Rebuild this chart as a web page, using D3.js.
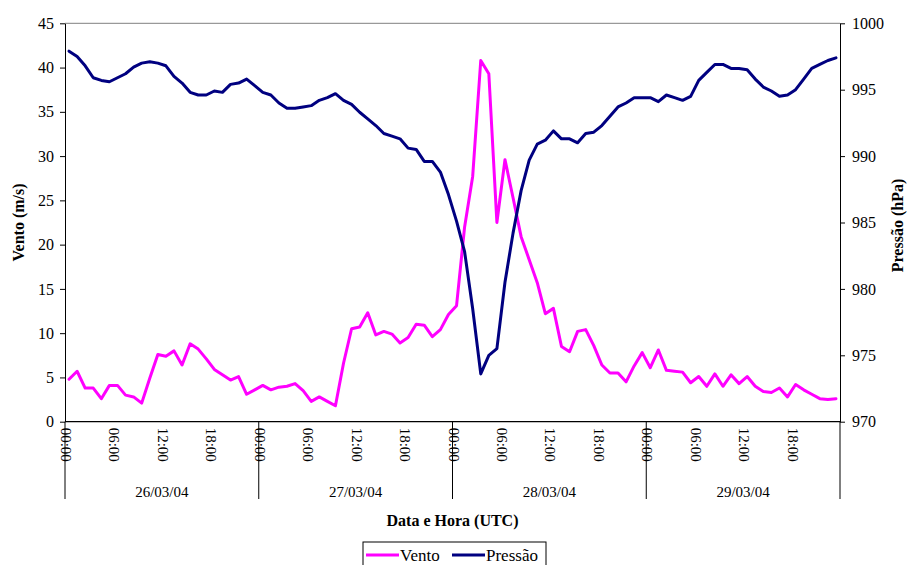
<!DOCTYPE html>
<html>
<head>
<meta charset="utf-8">
<script src="https://cdn.jsdelivr.net/npm/d3@7"></script>
<style>
  html, body { margin: 0; padding: 0; background: #fff; }
  svg { display: block; }
  svg text { font-family: "Liberation Serif", "Times New Roman", Times, "DejaVu Serif", serif; fill: #000; }
</style>
</head>
<body>
<svg id="chart" width="907" height="565"></svg>
<script>
// Observation days and hourly steps
const days = ["26/03/04", "27/03/04", "28/03/04", "29/03/04"];
const hourLabels = ["00:00", "06:00", "12:00", "18:00"];

// Wind speed (m/s), hourly
const vento = [
  4.8, 5.7, 3.8, 3.8, 2.6, 4.1, 4.1, 3.0, 2.8, 2.1, 4.9, 7.6,
  7.4, 8.0, 6.4, 8.8, 8.2, 7.1, 5.9, 5.3, 4.7, 5.1, 3.1, 3.6,
  4.1, 3.6, 3.9, 4.0, 4.3, 3.5, 2.3, 2.8, 2.3, 1.8, 6.6, 10.5,
  10.7, 12.3, 9.8, 10.2, 9.9, 8.9, 9.5, 11.0, 10.9, 9.6, 10.4, 12.1,
  13.1, 22.0, 27.7, 40.8, 39.3, 22.5, 29.6, 25.3, 20.9, 18.3, 15.7, 12.2,
  12.8, 8.5, 7.9, 10.2, 10.4, 8.6, 6.4, 5.5, 5.5, 4.5, 6.3, 7.8,
  6.1, 8.1, 5.8, 5.7, 5.6, 4.4, 5.1, 4.0, 5.4, 4.0, 5.3, 4.3,
  5.1, 4.0, 3.4, 3.3, 3.8, 2.8, 4.2, 3.6, 3.1, 2.6, 2.5, 2.6
];

// Sea-level pressure (hPa), hourly
const pressao = [
  997.9, 997.5, 996.8, 995.9, 995.7, 995.6, 995.9, 996.2, 996.7, 997.0, 997.1, 997.0,
  996.8, 996.0, 995.5, 994.8, 994.6, 994.6, 994.9, 994.8, 995.4, 995.5, 995.8, 995.3,
  994.8, 994.6, 994.0, 993.6, 993.6, 993.7, 993.8, 994.2, 994.4, 994.7, 994.2, 993.9,
  993.3, 992.8, 992.3, 991.7, 991.5, 991.3, 990.6, 990.5, 989.6, 989.6, 988.8, 987.1,
  985.1, 982.8, 978.5, 973.6, 975.0, 975.5, 980.5, 984.2, 987.4, 989.7, 990.9, 991.2,
  991.9, 991.3, 991.3, 991.0, 991.7, 991.8, 992.3, 993.0, 993.7, 994.0, 994.4, 994.4,
  994.4, 994.1, 994.6, 994.4, 994.2, 994.5, 995.7, 996.3, 996.9, 996.9, 996.6, 996.6,
  996.5, 995.8, 995.2, 994.9, 994.5, 994.6, 995.0, 995.8, 996.6, 996.9, 997.2, 997.4
];

const ventoTicks = [0, 5, 10, 15, 20, 25, 30, 35, 40, 45];
const pressaoTicks = [970, 975, 980, 985, 990, 995, 1000];

const SERIF = '"Liberation Serif", "Times New Roman", Times, "DejaVu Serif", serif';

// Category keys: one per hour, "day|HH:00"
const categories = [];
days.forEach(d => {
  for (let h = 0; h < 24; h++) categories.push(d + "|" + String(h).padStart(2, "0") + ":00");
});

const svg = d3.select("#chart").attr("font-family", SERIF);
const plot = { left: 65, right: 840, top: 23.3, bottom: 421.7 };

const x = d3.scaleBand().domain(categories).range([plot.left, plot.right]).padding(0);
const cx = k => x(k) + x.bandwidth() / 2;
const yV = d3.scaleLinear().domain([0, 45]).range([plot.bottom, plot.top]);
const yP = d3.scaleLinear().domain([970, 1000]).range([plot.bottom, plot.top]);

// plot frame top edge
svg.append("line")
  .attr("x1", plot.left).attr("x2", plot.right)
  .attr("y1", plot.top).attr("y2", plot.top)
  .attr("stroke", "#808080").attr("stroke-width", 1);

// left axis
const gL = svg.append("g").attr("transform", `translate(${plot.left},0)`)
  .call(d3.axisLeft(yV).tickValues(ventoTicks).tickFormat(d3.format("d"))
    .tickSize(5).tickPadding(6).tickSizeOuter(0));
// right axis
const gR = svg.append("g").attr("transform", `translate(${plot.right},0)`)
  .call(d3.axisRight(yP).tickValues(pressaoTicks).tickFormat(d3.format("d"))
    .tickSize(5).tickPadding(7).tickSizeOuter(0));
[gL, gR].forEach(g => {
  g.attr("font-family", SERIF).attr("font-size", 16);
  g.select(".domain").attr("stroke", "#000");
  g.selectAll(".tick line").attr("stroke", "#000");
  g.selectAll(".tick text").attr("fill", "#000");
});

// bottom axis line
svg.append("line")
  .attr("x1", plot.left).attr("x2", plot.right)
  .attr("y1", plot.bottom).attr("y2", plot.bottom)
  .attr("stroke", "#000").attr("stroke-width", 1.2);

// day separators (multi-level category ticks)
const sepX = days.map(d => x(d + "|00:00")).concat([plot.right]);
svg.append("g").selectAll("line").data(sepX).join("line")
  .attr("x1", d => d).attr("x2", d => d)
  .attr("y1", plot.bottom).attr("y2", 499)
  .attr("stroke", "#000").attr("stroke-width", 1);

// hour labels, rotated
const hourCats = categories.filter(k => hourLabels.includes(k.split("|")[1]));
svg.append("g").selectAll("text").data(hourCats).join("text")
  .attr("transform", k => `translate(${cx(k) - 8},${plot.bottom + 6}) rotate(90)`)
  .attr("text-anchor", "start")
  .attr("font-size", 15)
  .text(k => k.split("|")[1]);

// day labels
svg.append("g").selectAll("text").data(days).join("text")
  .attr("x", (d, i) => (sepX[i] + sepX[i + 1]) / 2)
  .attr("y", 497)
  .attr("text-anchor", "middle")
  .attr("font-size", 15)
  .text(d => d);

// axis titles
svg.append("text")
  .attr("transform", `translate(24,${(plot.top + plot.bottom) / 2}) rotate(-90)`)
  .attr("text-anchor", "middle")
  .attr("font-size", 16).attr("font-weight", "bold")
  .text("Vento (m/s)");
svg.append("text")
  .attr("transform", `translate(903,${(plot.top + plot.bottom) / 2 + 3}) rotate(-90)`)
  .attr("text-anchor", "middle")
  .attr("font-size", 16).attr("font-weight", "bold")
  .text("Pressão (hPa)");
svg.append("text")
  .attr("x", (plot.left + plot.right) / 2).attr("y", 526)
  .attr("text-anchor", "middle")
  .attr("font-size", 16).attr("font-weight", "bold")
  .text("Data e Hora (UTC)");

// series
const series = [
  { name: "Vento", values: vento, y: yV, color: "#FF00FF" },
  { name: "Pressão", values: pressao, y: yP, color: "#000080" }
];
series.forEach(s => {
  const line = d3.line().x((v, i) => cx(categories[i])).y(v => s.y(v));
  svg.append("path")
    .attr("d", line(s.values))
    .attr("fill", "none")
    .attr("stroke", s.color)
    .attr("stroke-width", 3)
    .attr("stroke-linejoin", "round")
    .attr("stroke-linecap", "round");
});

// legend
const lg = svg.append("g").attr("transform", "translate(363,542)");
lg.append("rect").attr("x", 0).attr("y", 0).attr("width", 183).attr("height", 30)
  .attr("fill", "#fff").attr("stroke", "#000").attr("stroke-width", 1);
const items = [{ s: series[0], x: 3, w: 33 }, { s: series[1], x: 89, w: 33 }];
items.forEach(it => {
  lg.append("line").attr("x1", it.x).attr("x2", it.x + it.w)
    .attr("y1", 13).attr("y2", 13)
    .attr("stroke", it.s.color).attr("stroke-width", 3);
  lg.append("text").attr("x", it.x + it.w + 1).attr("y", 19)
    .attr("font-size", 17).text(it.s.name);
});
</script>
</body>
</html>
